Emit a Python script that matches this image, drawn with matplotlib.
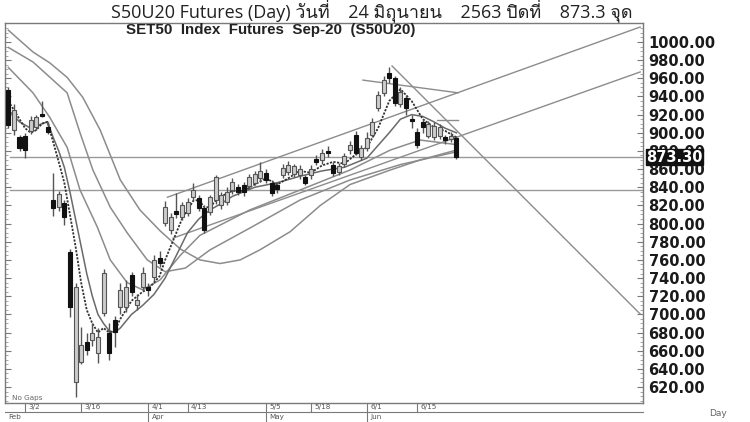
import matplotlib
matplotlib.use("Agg")
import matplotlib.pyplot as plt
import matplotlib.transforms as mtransforms
from matplotlib import font_manager
from matplotlib.ft2font import FT2Font
import numpy as np

# ---------------- data ----------------
dates = ['2/26', '2/27', '2/28',
         '3/2', '3/3', '3/4', '3/5', '3/6', '3/9', '3/10', '3/11', '3/12', '3/13',
         '3/16', '3/17', '3/18', '3/19', '3/20', '3/23', '3/24', '3/25', '3/26', '3/27',
         '3/30', '3/31',
         '4/1', '4/2', '4/3', '4/7', '4/8', '4/9', '4/10', '4/13', '4/14', '4/15', '4/16',
         '4/17', '4/20', '4/21', '4/22', '4/23', '4/24', '4/27', '4/28', '4/29', '4/30',
         '5/5', '5/7', '5/8', '5/11', '5/12', '5/13', '5/14', '5/15', '5/18', '5/19',
         '5/20', '5/21', '5/22', '5/25', '5/26', '5/27', '5/28', '5/29',
         '6/1', '6/2', '6/4', '6/5', '6/8', '6/9', '6/10', '6/11', '6/12', '6/15', '6/16',
         '6/17', '6/18', '6/19', '6/22', '6/23', '6/24']

opens = [947, 903, 895, 897, 902, 906, 921, 906, 826, 818, 823, 769, 626, 648, 670, 672,
         658, 702, 680, 694, 708, 708, 743, 710, 730, 730, 741, 762, 801, 793, 814, 807,
         812, 829, 828, 817, 813, 826, 820, 824, 837, 840, 842, 841, 845, 850, 856, 845,
         842, 853, 857, 855, 853, 851, 853, 871, 870, 880, 865, 857, 866, 881, 898, 873,
         883, 898, 927, 944, 966, 960, 932, 938, 915, 901, 912, 897, 895, 896, 895, 893, 894]
highs = [950, 932, 898, 900, 918, 920, 935, 912, 856, 836, 826, 772, 735, 686, 680, 690,
         685, 750, 690, 698, 735, 738, 747, 722, 752, 735, 765, 770, 825, 812, 834, 824,
         828, 845, 832, 820, 832, 853, 835, 840, 850, 844, 846, 855, 858, 868, 860, 848,
         846, 866, 869, 866, 864, 854, 864, 876, 882, 885, 868, 867, 878, 891, 902, 887,
         901, 916, 946, 962, 972, 962, 950, 942, 920, 905, 915, 913, 912, 910, 898, 901, 896]
lows = [905, 898, 880, 872, 899, 903, 917, 899, 808, 814, 798, 697, 609, 645, 655, 665,
        646, 698, 650, 664, 700, 703, 720, 705, 726, 720, 737, 752, 797, 788, 806, 804,
        808, 826, 814, 790, 809, 822, 816, 820, 833, 831, 830, 838, 842, 846, 845, 830,
        834, 850, 853, 851, 849, 842, 849, 864, 866, 873, 852, 854, 862, 877, 875, 870,
        880, 895, 924, 940, 955, 930, 928, 920, 905, 883, 900, 894, 892, 893, 888, 890, 871]
closes = [909, 925, 883, 881, 914, 917, 919, 901, 817, 833, 807, 708, 730, 666, 661, 680,
          675, 746, 658, 681, 727, 730, 725, 716, 746, 727, 760, 757, 818, 807, 810, 820,
          824, 837, 817, 793, 829, 851, 831, 835, 846, 835, 835, 851, 855, 858, 848, 834,
          838, 861, 865, 863, 860, 845, 860, 868, 878, 878, 856, 863, 874, 887, 878, 883,
          894, 912, 942, 958, 960, 933, 945, 927, 913, 887, 906, 910, 908, 906, 892, 897, 873.3]

# moving-average style lines (day index, value)
ma5_idx = [0, 1, 2, 3, 4, 5, 6, 7, 8, 9, 10, 11, 12, 13, 14, 15, 16, 17, 18, 19, 20, 21, 22,
           23, 24, 25, 26, 27, 28, 29, 30, 31, 32, 33, 34, 35, 36, 37, 38, 40, 42, 44, 46, 48,
           50, 52, 54, 56, 58, 60, 62, 64, 66, 68, 70, 72, 74, 76, 78, 80]
ma5_val = [935, 925, 915, 905, 900, 903, 910, 912, 890, 868, 845, 810, 775, 735, 705, 690,
           680, 685, 680, 682, 695, 705, 715, 720, 725, 728, 735, 742, 760, 775, 790, 805,
           815, 825, 826, 818, 818, 825, 830, 836, 836, 843, 850, 843, 850, 858, 856, 864,
           868, 866, 876, 884, 905, 935, 948, 935, 915, 906, 902, 895]
ma10_idx = [0, 2, 4, 6, 7, 8, 9, 10, 11, 12, 13, 14, 15, 16, 17, 18, 19, 20, 22, 24, 26, 28,
            30, 32, 34, 36, 38, 40, 44, 48, 52, 56, 60, 64, 68, 70, 72, 74, 76, 78, 80]
ma10_val = [925, 912, 905, 910, 912, 895, 880, 862, 835, 805, 775, 745, 720, 700, 690, 682,
            680, 685, 700, 710, 722, 740, 765, 790, 805, 815, 822, 830, 840, 845, 852, 858,
            862, 872, 900, 915, 920, 918, 912, 905, 900]
ma25_idx = [0, 4.4, 7.4, 10.5, 12.8, 15.9, 18.2, 21.2, 24, 27.1, 30.7, 34.2, 43.1, 52.1,
            61, 68.2, 73.5, 80]
ma25_val = [972, 944, 917, 884, 837, 796, 760, 735, 727, 738, 765, 787, 815, 837, 859, 881,
            892, 887]
ma50_idx = [0, 4.4, 10.5, 12.8, 15.1, 18.2, 21.2, 24.8, 28, 31.6, 36, 43.1, 52.1, 61, 70, 80]
ma50_val = [994, 978, 944, 900, 859, 818, 790, 760, 747, 751, 771, 795, 826, 848, 865, 879]
ma75_idx = [0, 4.4, 7.4, 10.5, 13.3, 16.4, 20, 23.5, 27.1, 30.7, 34.2, 37.8, 41.4, 44.9,
            50.3, 55.7, 61, 68.2, 73.5, 80]
ma75_val = [1013, 989, 977, 961, 939, 903, 848, 815, 792, 772, 760, 756, 760, 771, 791, 820,
            843, 859, 870, 881]

# trend lines (day index, value) pairs
trend_lines = [
    ((28.4, 829), (112.8, 1016.5)),   # upper channel
    ((29.4, 784), (112.8, 967)),      # lower channel
    ((68.5, 973.6), (112.8, 700.4)),  # falling resistance from the June top
    ((63.3, 958), (80.3, 944)),       # short line at the top
    ((76.6, 914), (80.3, 914)),       # short flat line
]
support_levels = [873.3, 837]
last_close = 873.3

tick_dates = ['3/2', '3/16', '4/1', '4/13', '5/5', '5/18', '6/1', '6/15']
month_dates = ['4/1', '5/5', '6/1']
month_labels = ['Apr', 'May', 'Jun']
first_month = 'Feb'
y_ticks = list(range(620, 1001, 20))

title = 'S50U20 Futures (Day) วันที่    24 มิถุนายน    2563 ปิดที่    873.3 จุด'
subtitle = 'SET50  Index  Futures  Sep-20  (S50U20)'


# ---------------- fonts ----------------
def font_with(ch):
    for f in font_manager.fontManager.ttflist:
        try:
            ft = FT2Font(f.fname)
            if ft.get_char_index(ord(ch)):
                return f.name
        except Exception:
            pass
    return None


thai = font_with('\u0e27')
title_family = ['Open Sans'] + ([thai] if thai else []) + ['DejaVu Sans']

# ---------------- figure ----------------
W, H = 750, 422
fig = plt.figure(figsize=(W / 100, H / 100), dpi=100)
fig.patch.set_facecolor('white')
L, R, T, B = 5, 643, 23, 403
ax = fig.add_axes([L / W, 1 - B / H, (R - L) / W, (B - T) / H])
ax.set_xlim(-0.59, 113.3)
ax.set_ylim(602.4, 1020.9)
for s in ax.spines.values():
    s.set_color('#7a7a7a')
    s.set_linewidth(1.0)

n = len(dates)
x = np.arange(n)
o = np.array(opens, float)
h = np.array(highs, float)
l = np.array(lows, float)
c = np.array(closes, float)
up = c >= o

# lines behind candles
grey = '#8c8c8c'
for lv in support_levels:
    ax.plot([0.3, 113.3], [lv, lv], color='#9a9a9a', lw=1.0, zorder=1)
for (x0, y0), (x1, y1) in trend_lines:
    ax.plot([x0, x1], [y0, y1], color=grey, lw=1.0, zorder=1)
ax.plot(ma75_idx, ma75_val, color=grey, lw=1.1, zorder=2)
ax.plot(ma50_idx, ma50_val, color=grey, lw=1.1, zorder=2)
ax.plot(ma25_idx, ma25_val, color=grey, lw=1.1, zorder=2)
ax.plot(ma10_idx, ma10_val, color='#6a6a6a', lw=1.1, zorder=2)
ax.plot(ma5_idx, ma5_val, color='#333333', lw=1.3, ls=(0, (1.2, 0.8)), zorder=2)

# candles
ax.vlines(x, l, h, color='#555555', lw=1.0, zorder=3)
bw = 0.72
body_lo = np.minimum(o, c)
body_h = np.maximum(np.abs(c - o), 0.9)
ax.bar(x[up], body_h[up], bottom=body_lo[up], width=bw, color='#cccccc',
       edgecolor='#555555', linewidth=0.8, zorder=4)
ax.bar(x[~up], body_h[~up], bottom=body_lo[~up], width=bw, color='#111111',
       edgecolor='#111111', linewidth=0.8, zorder=4)

# y axis on the right
ax.yaxis.tick_right()
ax.set_yticks(y_ticks)
ax.set_yticklabels([f'{v:.2f}' for v in y_ticks])
ax.set_yticks(np.arange(605, 1020, 5), minor=True)
ax.tick_params(axis='y', which='major', right=True, left=True, direction='in', length=4,
               color='#7a7a7a', pad=4)
ax.tick_params(axis='y', which='minor', right=True, left=True, direction='in', length=2,
               color='#9a9a9a')
for t in ax.get_yticklabels():
    t.set_fontfamily('DejaVu Sans')
    t.set_fontweight('bold')
    t.set_fontsize(10.5)
    t.set_color('#1a1a1a')

# last close marker
btr = mtransforms.blended_transform_factory(ax.transAxes, ax.transData)
ax.text(1.005, last_close, f'{last_close:.2f}', transform=btr, ha='left', va='center',
        fontsize=10.5, fontweight='bold', family='DejaVu Sans', color='white',
        bbox=dict(boxstyle='square,pad=0.04', fc='#111111', ec='#111111'), zorder=10,
        clip_on=False)

# x axis rows
ax.set_xticks([])
xtr = ax.get_xaxis_transform()
r1 = -9 / (B - T)
r2 = -19 / (B - T)
ax.plot([-0.59, 113.3], [r1, r1], transform=xtr, color='#7a7a7a', lw=0.8, clip_on=False)
for d in tick_dates:
    xi = dates.index(d)
    ax.plot([xi, xi], [0, r1], transform=xtr, color='#7a7a7a', lw=0.8, clip_on=False)
    ax.text(xi + 0.6, r1 / 2, d, transform=xtr, ha='left', va='center', fontsize=5.2,
            color='#555555', clip_on=False)
for d, lab in zip(month_dates, month_labels):
    xi = dates.index(d)
    ax.plot([xi, xi], [r1, r2], transform=xtr, color='#7a7a7a', lw=0.8, clip_on=False)
    ax.text(xi + 0.6, (r1 + r2) / 2, lab, transform=xtr, ha='left', va='center',
            fontsize=5.2, color='#555555', clip_on=False)
ax.text(0.0, (r1 + r2) / 2, first_month, transform=xtr, ha='left', va='center',
        fontsize=5.2, color='#555555', clip_on=False)

fig.text(12 / W, 1 - 398 / H, 'No Gaps', fontsize=5.2, color='#666666', va='center')
fig.text(718 / W, 1 - 414 / H, 'Day', fontsize=6.5, color='#666666', va='center',
         ha='center')

fig.text(372 / W, 1 - 11 / H, title, ha='center', va='center', fontsize=13,
         family=title_family, color='#222222')
fig.text(271 / W, 1 - 30 / H, subtitle, ha='center', va='center', fontsize=10.9,
         fontweight='bold', family='Liberation Sans', color='#222222')

fig.savefig('out.png', dpi=100, facecolor='white')
